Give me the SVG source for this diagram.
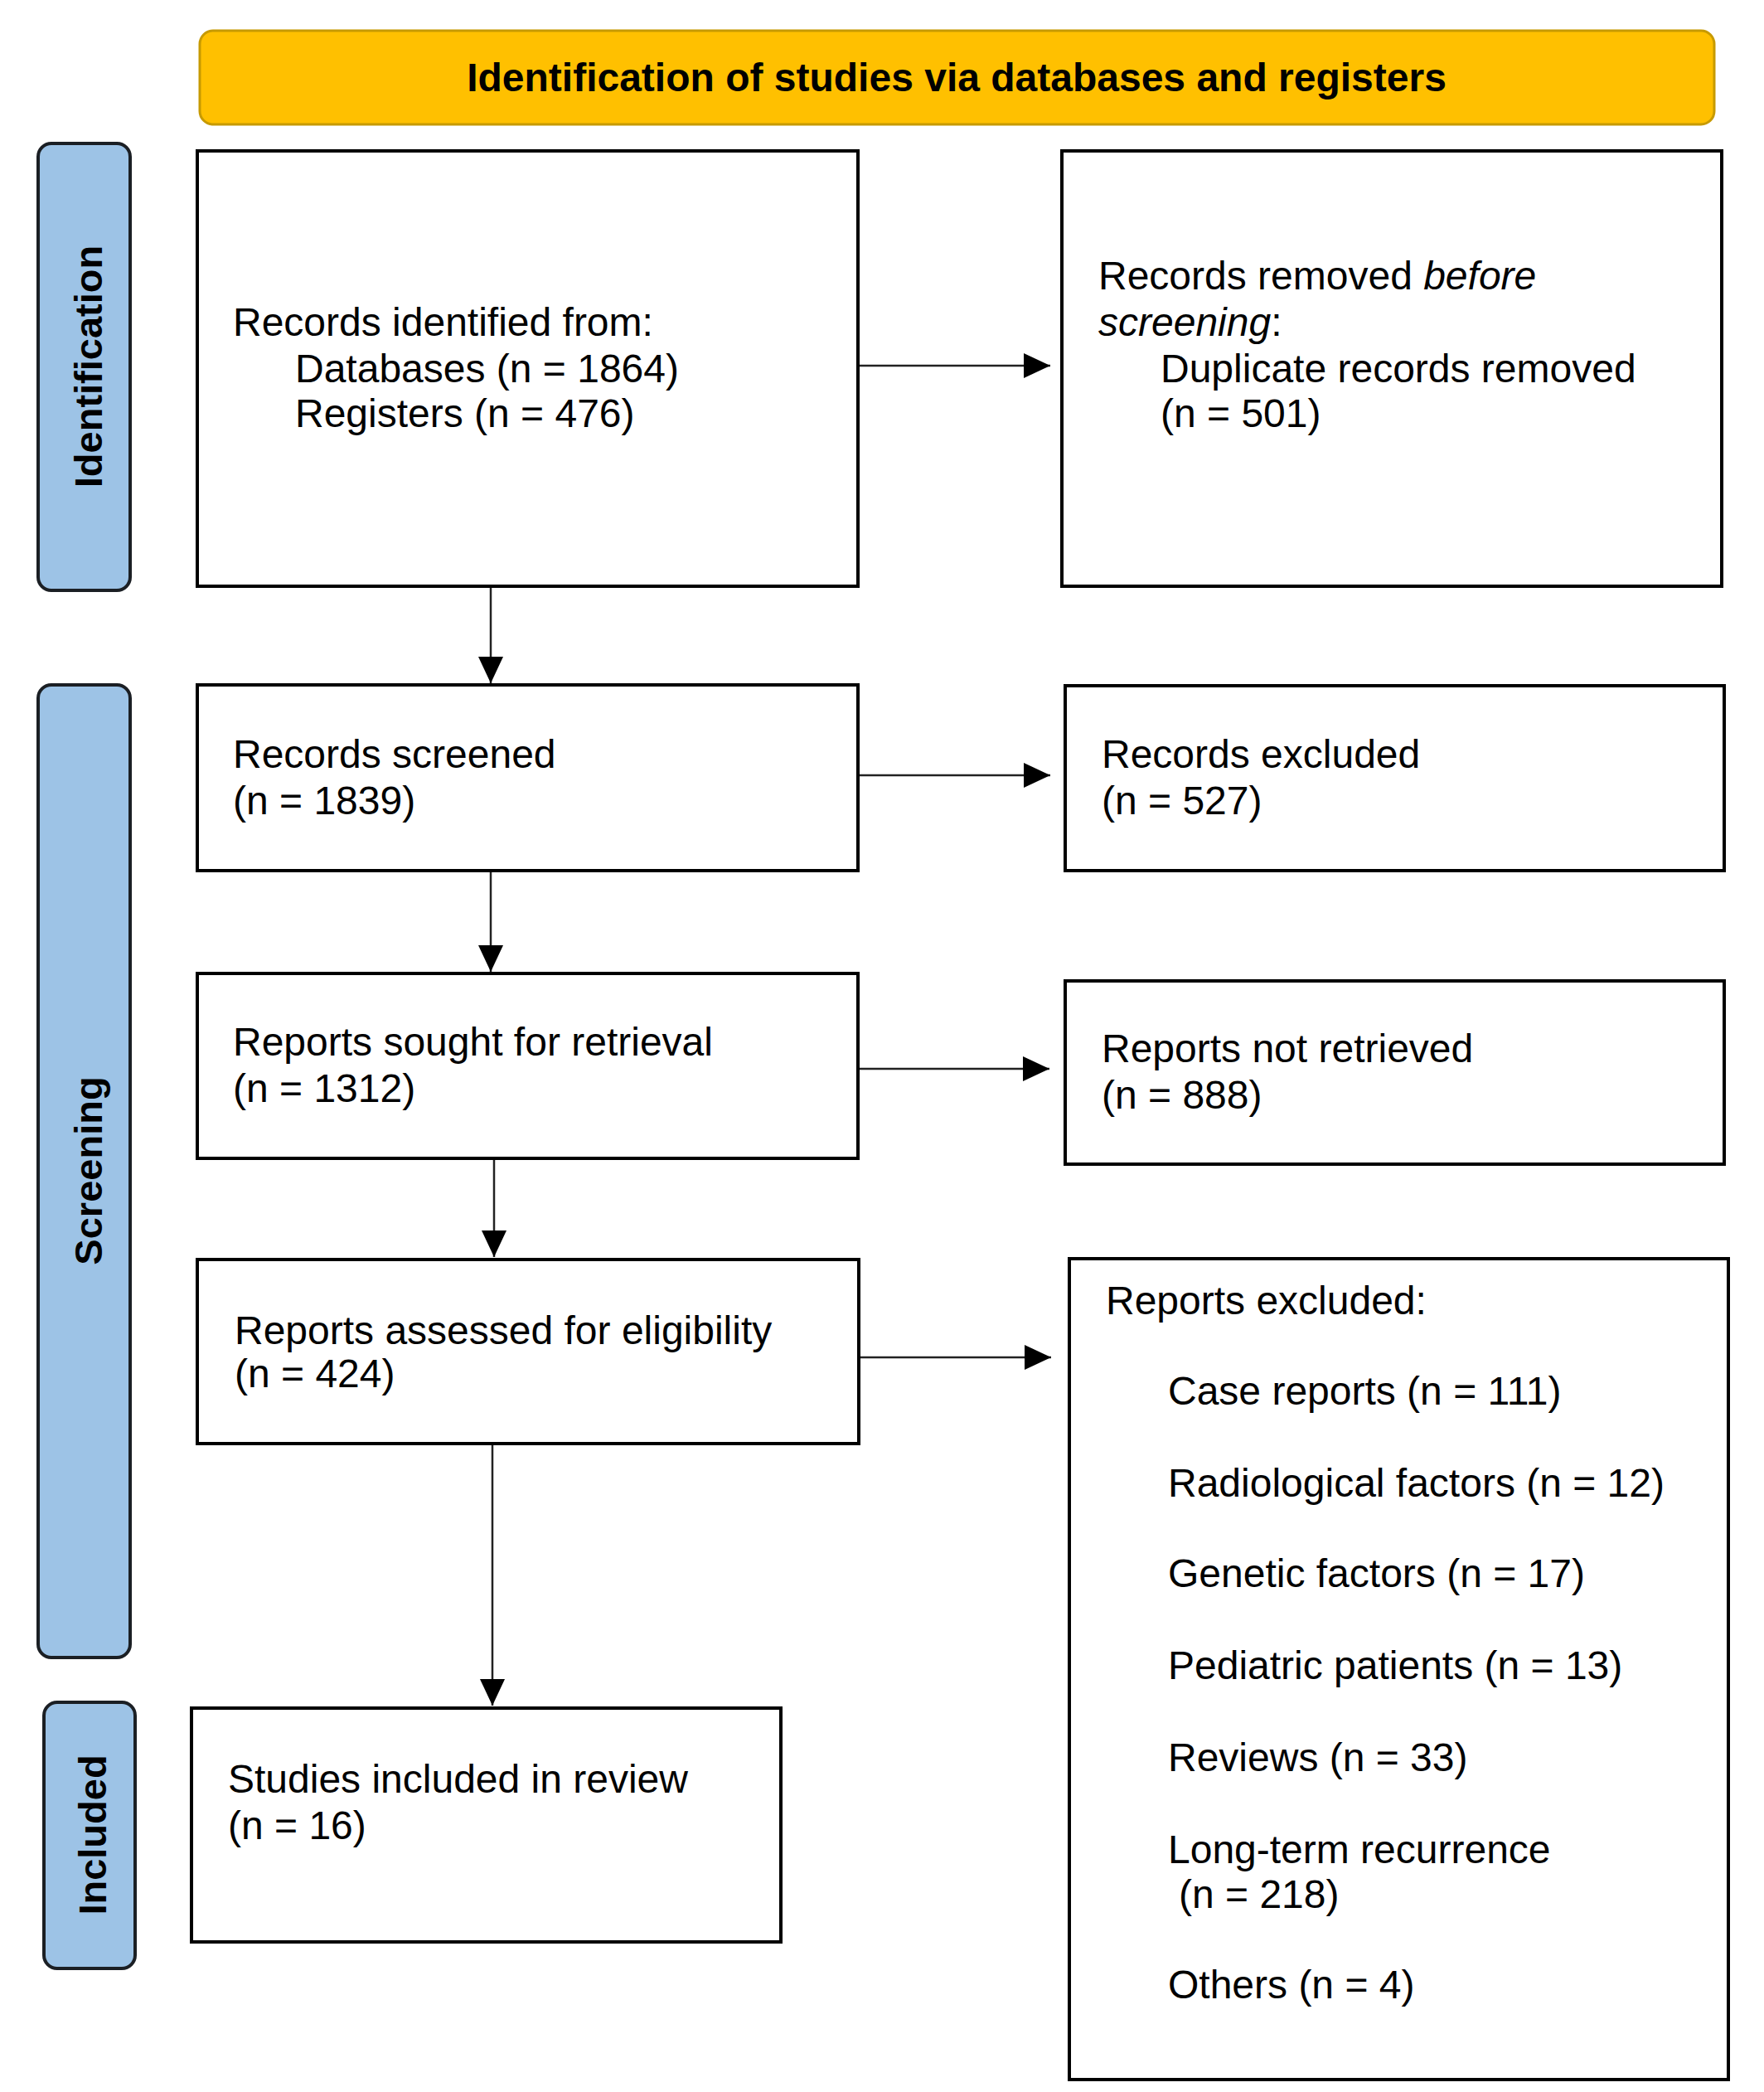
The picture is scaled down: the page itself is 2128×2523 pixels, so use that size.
<svg xmlns="http://www.w3.org/2000/svg" width="2128" height="2523" viewBox="0 0 2128 2523">
<defs>
<style>
.box{fill:#ffffff;stroke:#000000;stroke-width:4}
.side{fill:#9dc3e6;stroke:#1b1f24;stroke-width:4}
.hdr{fill:#ffc000;stroke:#c79a00;stroke-width:3}
.t{font-family:"Liberation Sans",Arial,sans-serif;font-size:48px;fill:#000000}
.tb{font-family:"Liberation Sans",Arial,sans-serif;font-size:48px;font-weight:bold;fill:#000000}
.sl{font-family:"Liberation Sans",Arial,sans-serif;font-size:47px;font-weight:bold;fill:#000000;text-anchor:middle}
.c{fill:none;stroke:#222222;stroke-width:2.5}
</style>
<marker id="ah" viewBox="0 0 32 30" refX="32" refY="15" markerWidth="32" markerHeight="30" markerUnits="userSpaceOnUse" orient="auto">
<path d="M0,0 L32,15 L0,30 Z" fill="#000000"/>
</marker>
</defs>
<rect x="0" y="0" width="2128" height="2523" fill="#ffffff"/>

<g id="header">
<rect class="hdr" x="241" y="37" width="1827" height="113" rx="16"/>
<text class="tb" x="1154" y="110" text-anchor="middle">Identification of studies via databases and registers</text>
</g>

<g id="side-identification">
<rect class="side" x="46" y="173" width="111" height="539" rx="16"/>
<text class="sl" transform="translate(123,442) rotate(-90)">Identification</text>
</g>
<g id="side-screening">
<rect class="side" x="46" y="826" width="111" height="1173" rx="16"/>
<text class="sl" transform="translate(123,1412) rotate(-90)">Screening</text>
</g>
<g id="side-included">
<rect class="side" x="53" y="2053" width="110" height="321" rx="16"/>
<text class="sl" transform="translate(128,2213) rotate(-90)">Included</text>
</g>

<g id="connectors">
<line class="c" x1="1035" y1="441" x2="1267" y2="441" marker-end="url(#ah)"/>
<line class="c" x1="1035" y1="935" x2="1267" y2="935" marker-end="url(#ah)"/>
<line class="c" x1="1035" y1="1289" x2="1266" y2="1289" marker-end="url(#ah)"/>
<line class="c" x1="1036" y1="1637" x2="1268" y2="1637" marker-end="url(#ah)"/>
<line class="c" x1="592" y1="707" x2="592" y2="824" marker-end="url(#ah)"/>
<line class="c" x1="592" y1="1050" x2="592" y2="1172" marker-end="url(#ah)"/>
<line class="c" x1="596" y1="1397" x2="596" y2="1516" marker-end="url(#ah)"/>
<line class="c" x1="594" y1="1741" x2="594" y2="2057" marker-end="url(#ah)"/>
</g>

<g id="records-identified">
<rect class="box" x="238" y="182" width="797" height="525"/>
<text class="t" x="281" y="405">Records identified from:</text>
<text class="t" x="356" y="461">Databases (n = 1864)</text>
<text class="t" x="356" y="515">Registers (n = 476)</text>
</g>

<g id="records-removed">
<rect class="box" x="1281" y="182" width="796" height="525"/>
<text class="t" x="1325" y="349">Records removed <tspan font-style="italic">before</tspan></text>
<text class="t" x="1325" y="405"><tspan font-style="italic">screening</tspan>:</text>
<text class="t" x="1400" y="461">Duplicate records removed</text>
<text class="t" x="1400" y="515">(n = 501)</text>
</g>

<g id="records-screened">
<rect class="box" x="238" y="826" width="797" height="224"/>
<text class="t" x="281" y="926">Records screened</text>
<text class="t" x="281" y="982">(n = 1839)</text>
</g>

<g id="records-excluded">
<rect class="box" x="1285" y="827" width="795" height="223"/>
<text class="t" x="1329" y="926">Records excluded</text>
<text class="t" x="1329" y="982">(n = 527)</text>
</g>

<g id="reports-sought">
<rect class="box" x="238" y="1174" width="797" height="223"/>
<text class="t" x="281" y="1273">Reports sought for retrieval</text>
<text class="t" x="281" y="1329">(n = 1312)</text>
</g>

<g id="reports-not-retrieved">
<rect class="box" x="1285" y="1183" width="795" height="221"/>
<text class="t" x="1329" y="1281">Reports not retrieved</text>
<text class="t" x="1329" y="1337">(n = 888)</text>
</g>

<g id="reports-assessed">
<rect class="box" x="238" y="1519" width="798" height="222"/>
<text class="t" x="283" y="1621">Reports assessed for eligibility</text>
<text class="t" x="283" y="1673">(n = 424)</text>
</g>

<g id="reports-excluded">
<rect class="box" x="1290" y="1518" width="795" height="990"/>
<text class="t" x="1334" y="1585">Reports excluded:</text>
<text class="t" x="1409" y="1694">Case reports (n = 111)</text>
<text class="t" x="1409" y="1805">Radiological factors (n = 12)</text>
<text class="t" x="1409" y="1914">Genetic factors (n = 17)</text>
<text class="t" x="1409" y="2025">Pediatric patients (n = 13)</text>
<text class="t" x="1409" y="2136">Reviews (n = 33)</text>
<text class="t" x="1409" y="2247">Long-term recurrence</text>
<text class="t" x="1422" y="2301">(n = 218)</text>
<text class="t" x="1409" y="2410">Others (n = 4)</text>
</g>

<g id="studies-included">
<rect class="box" x="231" y="2060" width="711" height="282"/>
<text class="t" x="275" y="2162">Studies included in review</text>
<text class="t" x="275" y="2218">(n = 16)</text>
</g>
</svg>
